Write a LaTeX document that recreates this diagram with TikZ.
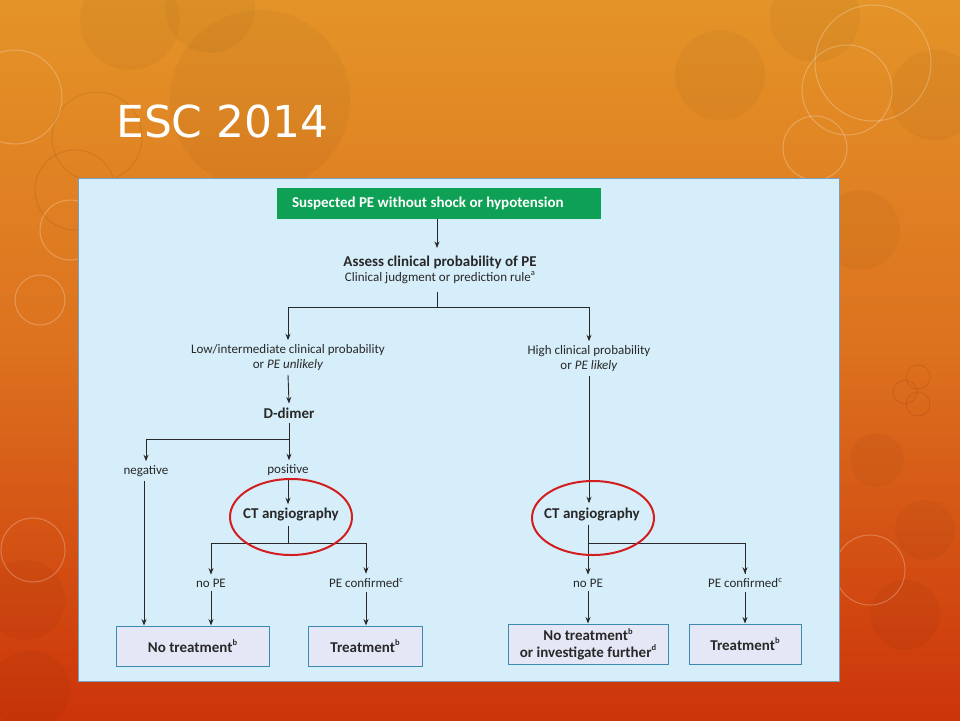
\documentclass[tikz,border=0pt]{standalone}
\usepackage{fontspec}
\setmainfont{Carlito}
\newfontfamily\titlefont{DejaVu Sans}
\usetikzlibrary{arrows.meta,shapes.geometric}
\newcommand\supmark[1]{\raisebox{0.45em}{\fontsize{8.5}{8.5}\selectfont #1}}
\definecolor{bgtop}{RGB}{228,148,40}
\definecolor{bgmid}{RGB}{220,112,30}
\definecolor{bgbot}{RGB}{204,52,10}
\definecolor{panel}{RGB}{214,238,250}
\definecolor{panelline}{RGB}{120,160,190}
\definecolor{pegreen}{RGB}{14,160,85}
\definecolor{boxfill}{RGB}{228,232,246}
\definecolor{boxline}{RGB}{60,138,178}
\definecolor{ink}{RGB}{40,40,40}
\definecolor{ringred}{RGB}{210,30,30}
\begin{document}
\begin{tikzpicture}[x=1pt,y=-1pt,
  every node/.style={font=\fontsize{13}{15}\selectfont, text=ink},
  lbl/.style={inner xsep=2pt, inner ysep=4pt, align=center},
  boldlbl/.style={lbl, font=\fontsize{15}{16}\selectfont\bfseries},
  endbox/.style={draw=boxline, fill=boxfill, line width=1pt, minimum height=40pt, align=center, font=\fontsize{15}{16.5}\selectfont\bfseries},
  arr/.style={draw=ink, line width=0.9pt, -{Stealth[length=6.5pt,width=5pt]}},
  ln/.style={draw=ink, line width=0.9pt},
  ring/.style={draw=ringred, line width=2pt},
  darkdisc/.style={fill=black, fill opacity=0.03},
  lightring/.style={draw=white, draw opacity=0.25, line width=1pt},
  darkring/.style={draw=black, draw opacity=0.08, line width=1pt}
]
% background
\useasboundingbox (0,0) rectangle (960,720);
\shade[top color=bgtop, bottom color=bgbot, middle color=bgmid] (0,0) rectangle (960,720);
% bokeh
\fill[darkdisc] (130,20) circle[radius=50];
\fill[darkdisc] (210,8) circle[radius=45];
\fill[darkdisc] (260,100) circle[radius=90];
\fill[darkdisc] (815,17) circle[radius=45];
\fill[darkdisc] (935,95) circle[radius=45];
\fill[darkdisc] (720,75) circle[radius=45];
\fill[darkdisc] (877,460) circle[radius=27];
\fill[darkdisc] (905,615) circle[radius=35];
\fill[darkdisc] (925,530) circle[radius=30];
\fill[darkdisc] (25,600) circle[radius=40];
\fill[darkdisc] (30,690) circle[radius=40];
\fill[darkdisc] (860,230) circle[radius=40];
\draw[lightring] (15,97) circle[radius=47];
\draw[darkring] (97,137) circle[radius=45];
\draw[darkring] (75,190) circle[radius=40];
\draw[lightring] (70,230) circle[radius=30];
\draw[lightring] (873,63) circle[radius=58];
\draw[lightring] (847,90) circle[radius=45];
\draw[lightring] (815,148) circle[radius=32];
\draw[darkring] (905,392) circle[radius=12];
\draw[darkring] (918,377) circle[radius=12];
\draw[darkring] (918,404) circle[radius=12];
\draw[lightring] (33,550) circle[radius=32];
\draw[lightring] (870,570) circle[radius=35];
\draw[lightring] (40,300) circle[radius=25];
% title
\node[anchor=base west, inner sep=0, text=white, font=\titlefont\fontsize{44}{48}\selectfont] (title) at (116,137) {ESC 2014};
% panel
\draw[panelline, fill=panel, line width=0.6pt] (78,178) rectangle (839,681);
% nodes
\node[fill=pegreen, inner xsep=15pt, minimum height=31pt, text=white, font=\fontsize{15}{16}\selectfont\bfseries] (green) at (439,203.5) {\makebox[294pt][l]{Suspected PE without shock or hypotension}};
\node[lbl, inner ysep=8pt] (assess) at (440,270) {{\fontsize{15}{16}\selectfont\bfseries Assess clinical probability of PE}\\Clinical judgment or prediction rule\supmark{a}};
\node[lbl] (low) at (288,357.5) {Low/intermediate clinical probability\\or \textit{PE unlikely}};
\node[lbl] (high) at (589,358.5) {High clinical probability\\or \textit{PE likely}};
\node[boldlbl] (ddimer) at (289,413) {D-dimer};
\node[lbl] (neg) at (146,471) {negative};
\node[lbl] (pos) at (288,470) {positive};
\node[boldlbl] (ctL) at (291,515) {CT angiography};
\node[boldlbl] (ctR) at (592,514) {CT angiography};
\node[lbl] (nopeL) at (211,583) {no PE};
\node[lbl] (confL) at (366,583) {PE confirmed\supmark{c}};
\node[lbl] (nopeR) at (588,583) {no PE};
\node[lbl] (confR) at (745,583) {PE confirmed\supmark{c}};
\node[endbox, minimum width=153pt] (b1) at (192.5,646) {No treatment\supmark{b}};
\node[endbox, minimum width=114pt] (b2) at (365,646) {Treatment\supmark{b}};
\node[endbox, minimum width=160pt] (b3) at (588,644) {No treatment\supmark{b}\\or investigate further\supmark{d}};
\node[endbox, minimum width=112pt] (b4) at (745,644) {Treatment\supmark{b}};
% junctions
\coordinate (j1) at (437,307);
\coordinate (j2) at (289,439);
\coordinate (j3) at (288,543);
\coordinate (j4) at (588,543);
% connectors
\draw[arr] (green.south -| j1) -- (assess.north -| j1);
\draw[ln] (assess.south -| j1) -- (j1);
\draw[arr] (j1) -| (low.north);
\draw[arr] (j1) -| (high.north);
\draw[arr] (low.south) -- (ddimer.north);
\draw[ln] (ddimer.south) -- (j2);
\draw[arr] (j2) -| (neg.north);
\draw[arr] (j2) -- (pos.north -| j2);
\draw[arr] (neg.south -| 144,0) -- (b1.north -| 144,0);
\draw[arr] (pos.south -| j3) -- (ctL.north -| j3);
\draw[ln] (ctL.south -| j3) -- (j3);
\draw[arr] (j3) -| (nopeL.north);
\draw[arr] (j3) -| (confL.north);
\draw[arr] (nopeL.south) -- (nopeL.south |- b1.north);
\draw[arr] (confL.south) -- (confL.south |- b2.north);
\draw[arr] (high.south) -- (ctR.north -| high.south);
\draw[arr] (ctR.south -| j4) -- (nopeR.north -| j4);
\draw[ln] (j4) -| (confR.north);
\draw[arr] (j4 -| confR.north) -- (confR.north);
\draw[arr] (nopeR.south) -- (b3.north);
\draw[arr] (confR.south) -- (b4.north);
% red rings
\draw[ring] (291,517) ellipse[x radius=61, y radius=38];
\draw[ring] (593,518) ellipse[x radius=61, y radius=37];
\end{tikzpicture}
\end{document}
